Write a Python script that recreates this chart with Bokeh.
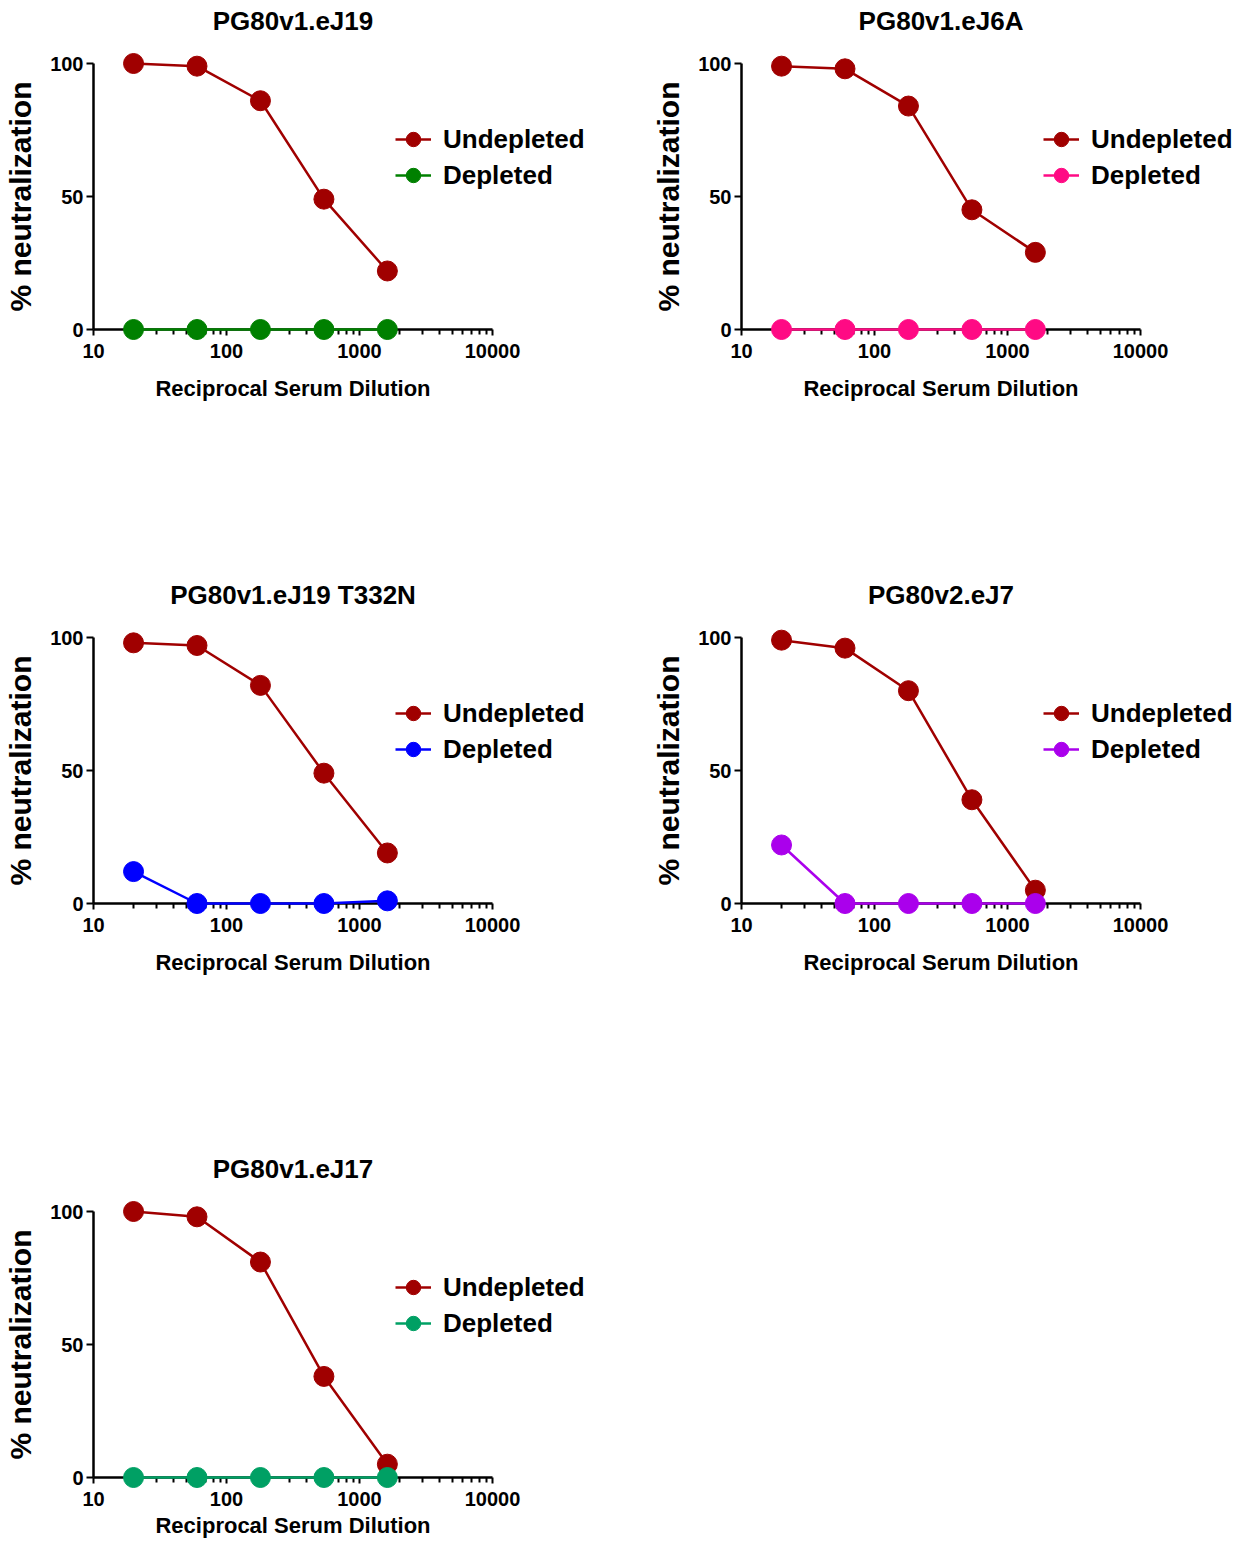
from bokeh.plotting import figure
from bokeh.models import Range1d, FixedTicker, Legend, LegendItem, Title
from bokeh.layouts import column, row
from bokeh.embed import file_html
from bokeh.resources import INLINE

# ---------------- data ----------------
dilutions = [20, 60, 180, 540, 1620]

titles = ["PG80v1.eJ19", "PG80v1.eJ6A", "PG80v1.eJ19 T332N", "PG80v2.eJ7", "PG80v1.eJ17"]

undepleted_eJ19 = [100, 99, 86, 49, 22]
depleted_eJ19 = [0, 0, 0, 0, 0]

undepleted_eJ6A = [99, 98, 84, 45, 29]
depleted_eJ6A = [0, 0, 0, 0, 0]

undepleted_T332N = [98, 97, 82, 49, 19]
depleted_T332N = [12, 0, 0, 0, 1]

undepleted_eJ7 = [99, 96, 80, 39, 5]
depleted_eJ7 = [22, 0, 0, 0, 0]

undepleted_eJ17 = [100, 98, 81, 38, 5]
depleted_eJ17 = [0, 0, 0, 0, 0]

series_labels = ["Undepleted", "Depleted"]
x_label = "Reciprocal Serum Dilution"
y_label = "% neutralization"
x_major_ticks = [10, 100, 1000, 10000]
x_tick_labels = ["10", "100", "1000", "10000"]
y_ticks = [0, 50, 100]

UND_COLOR = "#A00000"
dep_colors = ["#008000", "#FF0A84", "#0000FF", "#AA00EC", "#00A064"]

FONT = "Liberation Sans"

AXIS_PX = 399      # drawn length of the x axis (10 .. 10000)
EXTRA_PX = 100     # room right of the axis end, so the legend is not clipped
FRAME_W = AXIS_PX + EXTRA_PX
X_END = 10 ** (1 + 3 * FRAME_W / AXIS_PX)

# advance widths of Liberation Sans Bold (per 1000 em), used to centre texts over the axis
BOLD_W = {" ": 278, ".": 278, "A": 722, "D": 722, "G": 778, "J": 556, "N": 722, "P": 667,
          "R": 722, "S": 667, "T": 611, "a": 556, "c": 556, "e": 556, "i": 278, "l": 278,
          "m": 889, "n": 611, "o": 611, "p": 611, "r": 389, "t": 333, "u": 611, "v": 556}


def centred_offset(text, size_px):
    w = sum(BOLD_W.get(c, 556) for c in text) * size_px / 1000.0
    return (AXIS_PX - w) / 2.0


def make_panel(title, und, dep, dep_color, width, height, bl, bb, xlab_standoff=30):
    p = figure(width=width, height=height, x_axis_type="log",
               x_range=Range1d(10, X_END), y_range=Range1d(0, 100),
               min_border_left=bl, min_border_right=width - bl - FRAME_W, min_border_top=63,
               min_border_bottom=bb, output_backend="svg", toolbar_location=None,
               title=title)
    p.outline_line_color = None
    p.grid.visible = False
    p.background_fill_color = "white"
    p.border_fill_color = "white"

    p.title.text_font = FONT
    p.title.text_font_size = "26px"
    p.title.text_font_style = "bold"
    p.title.align = "left"
    p.title.offset = centred_offset(title, 26)
    p.title.vertical_align = "top"
    p.title.standoff = 8
    p.title.text_color = "black"
    # empty spacer between title and plot area
    p.add_layout(Title(text=" ", text_font_size="10px", standoff=9), "above")

    minor = [m * d for d in x_major_ticks[:-1] for m in range(2, 10)]
    xa = p.xaxis[0]
    xa.bounds = (x_major_ticks[0], x_major_ticks[-1])
    xa.ticker = FixedTicker(ticks=x_major_ticks, minor_ticks=minor)
    xa.major_label_overrides = {t: l for t, l in zip(x_major_ticks, x_tick_labels)}
    xa.major_label_standoff = 8
    xa.major_tick_in = 0
    xa.major_tick_out = 6
    xa.minor_tick_in = 0
    xa.minor_tick_out = 5
    # x axis title, centred under the 10..10000 axis
    p.add_layout(Title(text=x_label, text_font=FONT, text_font_size="22px",
                       text_font_style="bold", text_color="black", align="left",
                       offset=centred_offset(x_label, 22), vertical_align="top",
                       standoff=xlab_standoff), "below")

    ya = p.yaxis[0]
    ya.ticker = FixedTicker(ticks=y_ticks, minor_ticks=[])
    ya.axis_label = y_label
    ya.axis_label_standoff = 10
    ya.major_label_standoff = 3
    ya.major_tick_in = 0
    ya.major_tick_out = 7
    ya.minor_tick_out = 0
    ya.minor_tick_in = 0
    ya.axis_label_text_font = FONT
    ya.axis_label_text_font_style = "bold"
    ya.axis_label_text_color = "black"
    ya.axis_label_text_font_size = "30px"

    for ax in (xa, ya):
        ax.axis_line_width = 2.5
        ax.axis_line_color = "black"
        ax.major_tick_line_width = 2
        ax.minor_tick_line_width = 2
        ax.major_tick_line_color = "black"
        ax.minor_tick_line_color = "black"
        ax.major_label_text_font = FONT
        ax.major_label_text_font_size = "20px"
        ax.major_label_text_font_style = "bold"
        ax.major_label_text_color = "black"

    l1 = p.line(dilutions, und, line_color=UND_COLOR, line_width=2.5, level="overlay")
    s1 = p.scatter(dilutions, und, size=20, fill_color=UND_COLOR, line_color=UND_COLOR, level="overlay")
    l2 = p.line(dilutions, dep, line_color=dep_color, line_width=2.5, level="overlay")
    s2 = p.scatter(dilutions, dep, size=20, fill_color=dep_color, line_color=dep_color, level="overlay")

    legend = Legend(items=[LegendItem(label=series_labels[0], renderers=[l1, s1]),
                           LegendItem(label=series_labels[1], renderers=[l2, s2])],
                    location=(302, 136), glyph_width=36, glyph_height=36,
                    label_height=36, label_standoff=12, spacing=0, padding=0, margin=0,
                    border_line_color=None, background_fill_alpha=0,
                    label_text_font=FONT, label_text_font_style="bold",
                    label_text_font_size="26px", label_text_color="black")
    p.add_layout(legend)
    return p


f1 = make_panel(titles[0], undepleted_eJ19, depleted_eJ19, dep_colors[0], 640, 574, 93, 245)
f2 = make_panel(titles[1], undepleted_eJ6A, depleted_eJ6A, dep_colors[1], 610, 574, 101, 245)
f3 = make_panel(titles[2], undepleted_T332N, depleted_T332N, dep_colors[2], 640, 574, 93, 245)
f4 = make_panel(titles[3], undepleted_eJ7, depleted_eJ7, dep_colors[3], 610, 574, 101, 245)
f5 = make_panel(titles[4], undepleted_eJ17, depleted_eJ17, dep_colors[4], 640, 398, 93, 69,
                xlab_standoff=8)

layout = column(row(f1, f2), row(f3, f4), f5)

open("out.html", "w").write(file_html(layout, INLINE))
